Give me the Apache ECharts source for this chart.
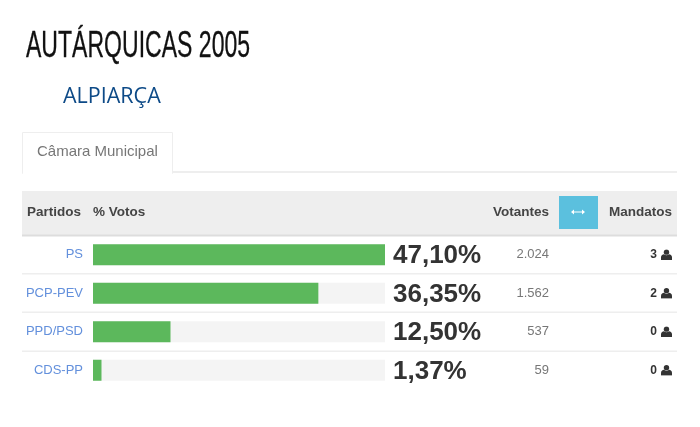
<!DOCTYPE html>
<html><head><meta charset="utf-8">
<script src="https://cdn.jsdelivr.net/npm/echarts@6/dist/echarts.min.js"></script>
<style>html,body{margin:0;padding:0;background:#fff}#c{width:700px;height:427px}</style>
</head><body><div id="c"></div>
<script>
const parties = ['PS','PCP-PEV','PPD/PSD','CDS-PP'];
const percentages = [47.10,36.35,12.50,1.37];
const votes = ['2.024','1.562','537','59'];
const seats = [3,2,0,0];
const titleText = 'AUTÁRQUICAS 2005';
const placeText = 'ALPIARÇA';
const tabText = 'Câmara Municipal';
const headers = ['Partidos','% Votos','Votantes','Mandatos'];

const pct = v => v.toFixed(2).replace('.',',') + '%';
const icon = 'data:image/svg+xml;utf8,' + encodeURIComponent('<svg xmlns="http://www.w3.org/2000/svg" width="44" height="44" viewBox="0 0 11 11"><circle cx="5.5" cy="2.9" r="2.7" fill="#333"/><path d="M0 10.8V8.2C0 6.2 1.4 5.1 3 5C4.4 6.2 6.6 6.2 8 5C9.6 5.1 11 6.2 11 8.2V10.8Z" fill="#333"/></svg>');

const baseY = {type:'category',inverse:true,data:parties,axisLine:{show:false},axisTick:{show:false},splitLine:{show:false}};
const hdr = (text,x,align) => ({type:'text',x:x,y:212,z:5,style:{text:text,x:0,y:0,align:align,verticalAlign:'middle',font:'bold 13.5px "Liberation Sans"',fill:'#444'}});
const rule = (y,c,h) => ({type:'rect',z:1,shape:{x:22,y:y,width:655,height:h},style:{fill:c}});

const option = {
  animation:false,
  backgroundColor:'#fff',
  grid:{left:93,top:235.5,width:292,height:154,containLabel:false},
  xAxis:{type:'value',min:0,max:47.1,show:false},
  yAxis:[
    Object.assign({},baseY,{position:'left',axisLabel:{margin:10,fontFamily:'Liberation Sans',fontSize:13,color:'#6390dc'}}),
    Object.assign({},baseY,{position:'right',offset:8,data:percentages.map(pct),axisLabel:{margin:0,align:'left',
      formatter:v=>'{p|'+v+'}',
      rich:{p:{fontFamily:'Liberation Sans',fontWeight:'bold',fontSize:26,color:'#333',padding:[3,0,0,0]}}}}),
    Object.assign({},baseY,{position:'right',offset:164,data:votes,axisLabel:{margin:0,align:'right',fontFamily:'Liberation Sans',fontSize:13,color:'#777'}}),
    Object.assign({},baseY,{position:'right',offset:287,data:seats.map(String),axisLabel:{margin:0,align:'right',
      formatter:v=>'{n|'+v+'}{i|}',
      rich:{n:{fontFamily:'Liberation Sans',fontWeight:'bold',fontSize:12,color:'#333',padding:[0,4,0,0]},
            i:{width:11,height:11,backgroundColor:{image:icon}}}}})
  ],
  series:[{type:'bar',data:percentages,barWidth:21,yAxisIndex:0,z:3,
    itemStyle:{color:'#5cb85c'},showBackground:true,backgroundStyle:{color:'#f4f4f4'}}],
  graphic:{elements:[
    {type:'text',x:26,y:47,scaleX:0.64,z:5,style:{text:titleText,x:0,y:0,verticalAlign:'middle',font:'36px "Liberation Sans"',fill:'#111',stroke:'#111',lineWidth:0.3}},
    {type:'text',x:63,y:97,z:5,style:{text:placeText,x:0,y:0,verticalAlign:'middle',font:'21.5px "Open Sans"',fill:'#0d4a87'}},
    {type:'rect',z:1,shape:{x:22,y:171,width:655,height:2},style:{fill:'#eee'}},
    {type:'rect',z:2,shape:{x:22.5,y:132.5,width:150,height:41},style:{fill:'#fff',stroke:'#eee',lineWidth:1}},
    {type:'rect',z:3,shape:{x:23,y:171,width:149,height:3},style:{fill:'#fff'}},
    {type:'text',x:37,y:152,z:5,style:{text:tabText,x:0,y:0,verticalAlign:'middle',font:'15px "Liberation Sans"',fill:'#777'}},
    rule(191,'#eee',44), rule(234.5,'#ddd',2), rule(273,'#eee',1.5), rule(311.5,'#eee',1.5), rule(350.5,'#eee',1.5),
    hdr(headers[0],27,'left'), hdr(headers[1],93,'left'), hdr(headers[2],549,'right'), hdr(headers[3],672,'right'),
    {type:'rect',z:4,shape:{x:559,y:196,width:39,height:33},style:{fill:'#5bc0de'}},
    {type:'polygon',z:5,shape:{points:[[571,212],[574,209.5],[574,211.4],[582,211.4],[582,209.5],[585,212],[582,214.5],[582,212.6],[574,212.6],[574,214.5]]},style:{fill:'#fff'}}
  ]}
};
echarts.init(document.getElementById('c'),null,{renderer:'canvas'}).setOption(option);
</script></body></html>
